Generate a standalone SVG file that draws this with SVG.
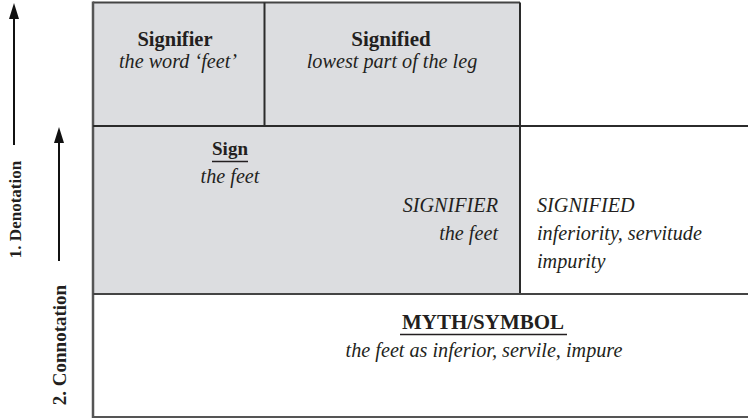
<svg xmlns="http://www.w3.org/2000/svg" width="748" height="419" viewBox="0 0 748 419">
<style>
.b{font-weight:bold;font-size:21px}
.i{font-style:italic;font-size:20.2px}
.lab{font-weight:bold;font-size:17px}
.ln{stroke:#2b2b2b;stroke-width:2;fill:none}
.g{fill:#dcdde0}
.ah{fill:#111}
</style>
<g id="background">
<rect class="g" x="93" y="2.5" width="427" height="291.5"/>
</g>
<g id="connectors">
<line class="ln" x1="14" y1="145" x2="14" y2="14" style="stroke:#111"/>
<polygon class="ah" points="14,3 19,19 9,19"/>
<line class="ln" x1="59" y1="261" x2="59" y2="138" style="stroke:#111"/>
<polygon class="ah" points="59,127 64,143 54,143"/>
</g>
<g id="grid">
<line class="ln" x1="93" y1="2.5" x2="520" y2="2.5" style="stroke:#444"/>
<line class="ln" x1="93" y1="1.5" x2="93" y2="418" style="stroke:#555;stroke-width:2.5"/>
<line class="ln" x1="264.5" y1="2.5" x2="264.5" y2="126"/>
<line class="ln" x1="520" y1="2.5" x2="520" y2="294"/>
<line class="ln" x1="93" y1="126" x2="748" y2="126"/>
<line class="ln" x1="93" y1="294" x2="748" y2="294" style="stroke:#444"/>
<line class="ln" x1="93" y1="417" x2="748" y2="417" style="stroke:#555"/>
</g>
<g font-family="Liberation Serif, DejaVu Serif, serif" fill="#231f20">
<g id="denotation-label">
<text class="lab" transform="translate(20.5,209.5) rotate(-90)" text-anchor="middle">1. Denotation</text>
</g>
<g id="connotation-label">
<text class="lab" style="font-size:19px" transform="translate(66,345) rotate(-90)" text-anchor="middle">2. Connotation</text>
</g>
<g id="signifier">
<text class="b" style="font-size:20.5px" x="175" y="46" text-anchor="middle">Signifier</text>
<text class="i" x="178" y="68" text-anchor="middle">the word ‘feet’</text>
</g>
<g id="signified">
<text class="b" x="391" y="46" text-anchor="middle">Signified</text>
<text class="i" x="392" y="68" text-anchor="middle">lowest part of the leg</text>
</g>
<g id="sign">
<text class="b" style="font-size:19px" x="230" y="155" text-anchor="middle">Sign</text>
<line x1="212" y1="161.5" x2="248" y2="161.5" stroke="#231f20" stroke-width="1.3"/>
<text class="i" x="230" y="183" text-anchor="middle">the feet</text>
</g>
<g id="signifier2">
<text class="i" x="498" y="212" text-anchor="end">SIGNIFIER</text>
<text class="i" x="498" y="240" text-anchor="end">the feet</text>
</g>
<g id="signified2">
<text class="i" x="537" y="212">SIGNIFIED</text>
<text class="i" x="537" y="240">inferiority, servitude</text>
<text class="i" x="537" y="268">impurity</text>
</g>
<g id="myth">
<text class="b" x="483" y="329" text-anchor="middle">MYTH/SYMBOL</text>
<line x1="400" y1="334.5" x2="567" y2="334.5" stroke="#231f20" stroke-width="1.3"/>
<text class="i" x="484" y="357" text-anchor="middle">the feet as inferior, servile, impure</text>
</g>
</g>
</svg>
